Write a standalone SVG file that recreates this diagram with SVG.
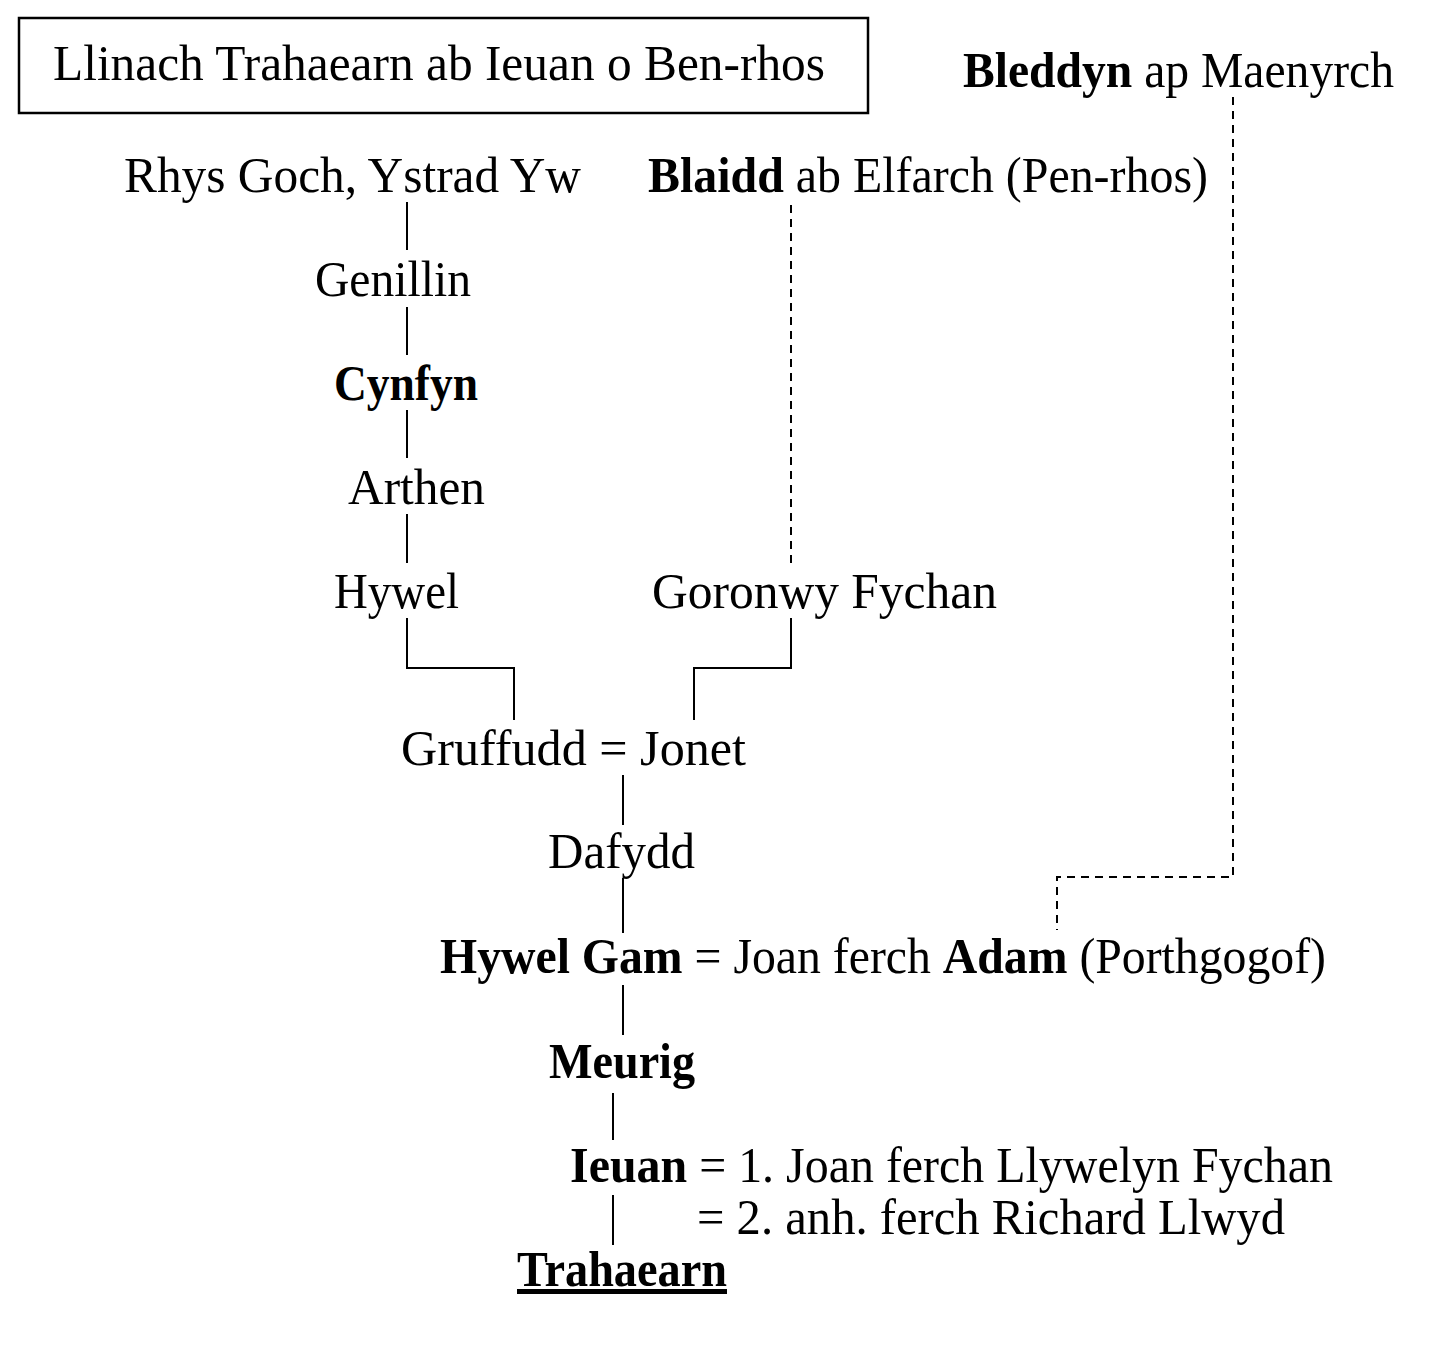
<svg xmlns="http://www.w3.org/2000/svg" width="1434" height="1346" viewBox="0 0 1434 1346">
<style>
text{font-family:"Liberation Serif","Times New Roman",serif;font-size:50px;fill:#000}
.b{font-weight:bold}
.s{stroke:#000;stroke-width:2;fill:none}
.d{stroke:#000;stroke-width:2;fill:none;stroke-dasharray:8,6}
</style>
<rect width="1434" height="1346" fill="#fff"/>
<g id="title"><rect x="19" y="18" width="849" height="95" fill="none" stroke="#000" stroke-width="2.5"/>
<text x="53" y="80" textLength="772" lengthAdjust="spacingAndGlyphs">Llinach Trahaearn ab Ieuan o Ben-rhos</text></g>
<g id="bleddyn"><text x="963" y="87" textLength="431" lengthAdjust="spacingAndGlyphs"><tspan class="b">Bleddyn</tspan> ap Maenyrch</text></g>
<g id="rhys"><text x="124" y="192" textLength="457" lengthAdjust="spacingAndGlyphs">Rhys Goch, Ystrad Yw</text></g>
<g id="blaidd"><text x="648" y="192" textLength="560" lengthAdjust="spacingAndGlyphs"><tspan class="b">Blaidd</tspan> ab Elfarch (Pen-rhos)</text></g>
<g id="genillin"><text x="315" y="296" textLength="156" lengthAdjust="spacingAndGlyphs">Genillin</text></g>
<g id="cynfyn"><text class="b" x="334" y="400" textLength="144" lengthAdjust="spacingAndGlyphs">Cynfyn</text></g>
<g id="arthen"><text x="348" y="504" textLength="137" lengthAdjust="spacingAndGlyphs">Arthen</text></g>
<g id="hywel"><text x="334" y="608" textLength="125" lengthAdjust="spacingAndGlyphs">Hywel</text></g>
<g id="goronwy"><text x="652" y="608" textLength="345" lengthAdjust="spacingAndGlyphs">Goronwy Fychan</text></g>
<g id="gruffudd"><text x="401" y="765" textLength="345" lengthAdjust="spacingAndGlyphs">Gruffudd = Jonet</text></g>
<g id="dafydd"><text x="548" y="868" textLength="147" lengthAdjust="spacingAndGlyphs">Dafydd</text></g>
<g id="hywelgam"><text x="440" y="973" textLength="886" lengthAdjust="spacingAndGlyphs"><tspan class="b">Hywel Gam</tspan> = Joan ferch <tspan class="b">Adam</tspan> (Porthgogof)</text></g>
<g id="meurig"><text class="b" x="549" y="1078" textLength="146" lengthAdjust="spacingAndGlyphs">Meurig</text></g>
<g id="ieuan"><text x="570" y="1182" textLength="763" lengthAdjust="spacingAndGlyphs"><tspan class="b">Ieuan</tspan> = 1. Joan ferch Llywelyn Fychan</text>
<text x="697" y="1234" textLength="588" lengthAdjust="spacingAndGlyphs">= 2. anh. ferch Richard Llwyd</text></g>
<g id="trahaearn"><text class="b" x="517" y="1286" textLength="210" lengthAdjust="spacingAndGlyphs" text-decoration="underline">Trahaearn</text></g>
<g id="connectors">
<path class="s" d="M407 202V250M407 307V355M407 410V458M407 514V563M407 618V668H514V720M791 618V668H694V720M623 775V825M623 878V933M623 985V1035M613 1093V1140M613 1195V1245"/>
<path class="d" d="M791 205V568M1233 97V877H1057V930"/>
</g>
</svg>
